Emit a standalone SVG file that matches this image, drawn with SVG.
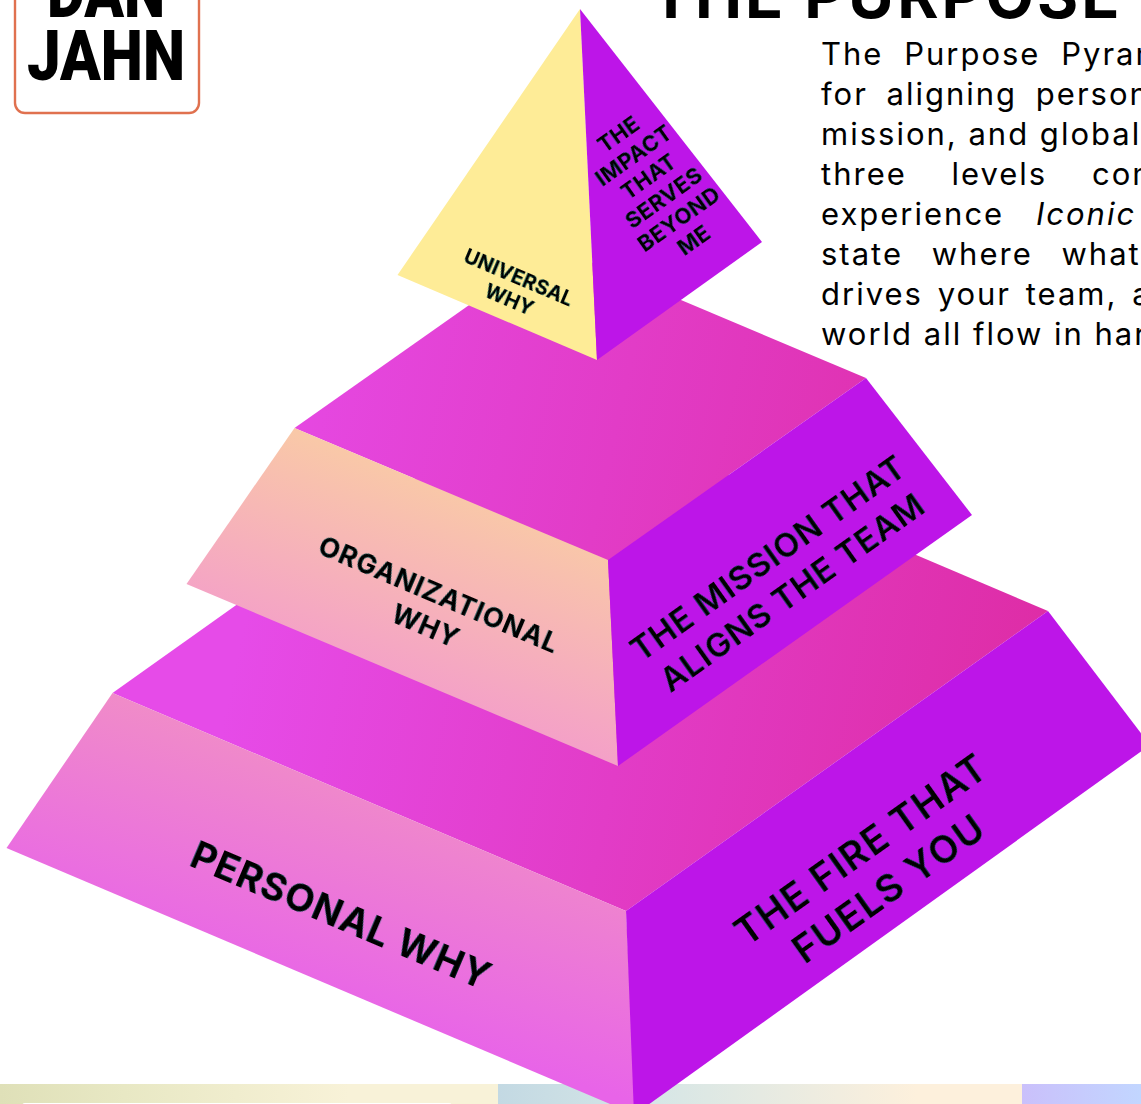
<svg xmlns="http://www.w3.org/2000/svg" width="1141" height="1104" viewBox="0 0 1141 1104">
<style>
text{font-family:Inter,"Liberation Sans",sans-serif;fill:#000}
.body{font-size:31px;letter-spacing:2px}
.lab{font-weight:700;text-anchor:middle;filter:drop-shadow(.6px .6px 0 #00e5e5)}
.rt{font-weight:600}
.logo{font-family:Roboto,sans-serif;font-weight:900;font-size:70px}
</style>
<defs>
<linearGradient id="s1" x1="0" x2="1" y1="0" y2="0"><stop offset="0" stop-color="#dfe0b8"/><stop offset=".25" stop-color="#e8e8c4"/><stop offset=".7" stop-color="#f8f2d8"/><stop offset="1" stop-color="#f8f2d8"/></linearGradient>
<linearGradient id="s2" x1="0" x2="1" y1="0" y2="0"><stop offset="0" stop-color="#c3d9e3"/><stop offset=".3" stop-color="#d6e6e6"/><stop offset=".8" stop-color="#fdf0dc"/><stop offset="1" stop-color="#fdf0dc"/></linearGradient>
<linearGradient id="s3" x1="0" x2="1" y1="0" y2="0"><stop offset="0" stop-color="#cac0fb"/><stop offset="1" stop-color="#c2d6ff"/></linearGradient>
<linearGradient id="topB" gradientUnits="userSpaceOnUse" x1="240" y1="640" x2="1010" y2="800"><stop offset="0" stop-color="#e64be8"/><stop offset="1" stop-color="#de2da6"/></linearGradient>
<linearGradient id="topM" gradientUnits="userSpaceOnUse" x1="240" y1="300" x2="1010" y2="470"><stop offset="0" stop-color="#e64be8"/><stop offset="1" stop-color="#de2da6"/></linearGradient>
<linearGradient id="leftB" gradientUnits="userSpaceOnUse" x1="370" y1="770" x2="300" y2="1000"><stop offset="0" stop-color="#f08cc8"/><stop offset="1" stop-color="#e864e8"/></linearGradient>
<linearGradient id="leftM" gradientUnits="userSpaceOnUse" x1="450" y1="490" x2="380" y2="680"><stop offset="0" stop-color="#f9c8a8"/><stop offset="1" stop-color="#f4a0c8"/></linearGradient>
</defs>
<rect x="0" y="1084" width="498" height="20" fill="url(#s1)"/>
<rect x="498" y="1084" width="524" height="20" fill="url(#s2)"/>
<rect x="1022" y="1084" width="119" height="20" fill="url(#s3)"/>
<rect x="22" y="1103" width="430" height="6" rx="3" fill="#fff"/>
<g id="logo">
<rect x="15" y="-40" width="184" height="153" rx="10" fill="#fff" stroke="#e0714f" stroke-width="2.4"/>
<text class="logo" x="47" y="17" textLength="118" lengthAdjust="spacingAndGlyphs">DAN</text>
<text class="logo" x="27" y="80" textLength="158" lengthAdjust="spacingAndGlyphs">JAHN</text>
</g>
<g id="title"><text x="650" y="18" font-size="63" font-weight="700" letter-spacing="3">THE PURPOSE PYRAMID</text></g>
<g id="description">
<text class="body" x="821" y="65">The <tspan dx="10">Purpose</tspan> <tspan dx="10">Pyramid</tspan></text>
<text class="body" x="821" y="105">for <tspan dx="8">aligning</tspan> <tspan dx="8">personal</tspan></text>
<text class="body" x="821" y="145">mission, and global</text>
<text class="body" x="821" y="185">three <tspan dx="34">levels</tspan> <tspan dx="34">combine</tspan></text>
<text class="body" x="821" y="225">experience <tspan dx="21" font-style="italic">Iconic</tspan></text>
<text class="body" x="821" y="265">state <tspan dx="18">where</tspan> <tspan dx="18">what</tspan></text>
<text class="body" x="821" y="305">drives <tspan dx="4">your</tspan> <tspan dx="4">team,</tspan> <tspan dx="4">and</tspan></text>
<text class="body" x="821" y="345" letter-spacing="1.8">world all flow in harmony</text>
</g>
<g id="tier-bottom">
<polygon points="112.5,693 535,393 1048,611 626,911" fill="url(#topB)"/>
<polygon points="112.5,693 626,911 636,1115 6.5,848" fill="url(#leftB)"/>
<polygon points="626,911 1048,611 1150,745 634,1115" fill="#bd15e8"/>
<text class="lab" font-size="38" letter-spacing="1" transform="translate(336 928) rotate(23)">PERSONAL WHY</text>
<g transform="translate(873 866) rotate(-35.4)"><text class="lab rt" font-size="38" letter-spacing="1.6" y="-7">THE FIRE THAT</text><text class="lab rt" font-size="38" letter-spacing="1.6" y="41">FUELS YOU</text></g>
</g>
<g id="tier-middle">
<polygon points="294.5,428 553,246 866,378 608,560" fill="url(#topM)"/>
<polygon points="294.5,428 608,560 618,766 186.5,584" fill="url(#leftM)"/>
<polygon points="608,560 866,378 972,515 618,766" fill="#bd15e8"/>
<g transform="translate(433 609) rotate(23)"><text class="lab" font-size="27" letter-spacing="1" y="-6">ORGANIZATIONAL</text><text class="lab" font-size="27" letter-spacing="1" y="28">WHY</text></g>
<g transform="translate(780 575) rotate(-35.4)"><text class="lab rt" font-size="33" letter-spacing=".9" y="-9">THE MISSION THAT</text><text class="lab rt" font-size="33" letter-spacing=".9" y="33">ALIGNS THE TEAM</text></g>
</g>
<g id="tier-top">
<polygon points="580,9 597,360 397.5,275" fill="#feec97"/>
<polygon points="580,9 762,242 597,360" fill="#bd15e8"/>
<g transform="translate(516 284) rotate(23)"><text class="lab" font-size="20" letter-spacing=".2" y="0">UNIVERSAL</text><text class="lab" font-size="20" letter-spacing=".2" y="24">WHY</text></g>
<g transform="translate(659 191) rotate(-35.4)">
<text class="lab" font-size="22" letter-spacing=".4" y="-62">THE</text>
<text class="lab" font-size="22" letter-spacing=".4" y="-36">IMPACT</text>
<text class="lab" font-size="22" letter-spacing=".4" y="-10">THAT</text>
<text class="lab" font-size="22" letter-spacing=".4" y="16">SERVES</text>
<text class="lab" font-size="22" letter-spacing=".4" y="42">BEYOND</text>
<text class="lab" font-size="22" letter-spacing=".4" y="68">ME</text>
</g>
</g>
</svg>
